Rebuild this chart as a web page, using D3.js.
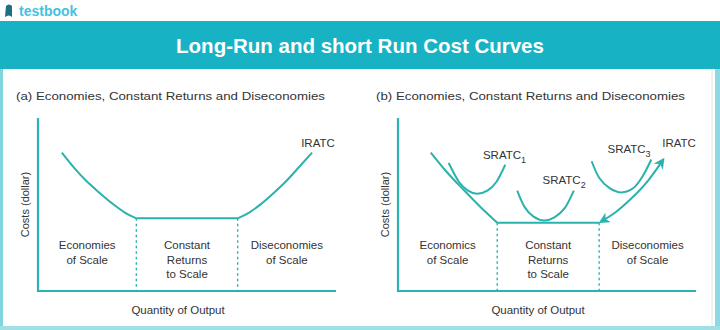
<!DOCTYPE html>
<html lang="en">
<head>
<meta charset="utf-8">
<title>Long-Run and short Run Cost Curves</title>
<script src="https://cdn.jsdelivr.net/npm/d3@7"></script>
<style>
body { margin: 0; background: #fff; }
text { font-family: "Liberation Sans", Arial, sans-serif; fill: #333; }
.curve { fill: none; stroke: #2ab2ad; stroke-width: 2; }
.axis { stroke: #2bb3b3; stroke-width: 2.2; }
.dash { stroke: #2ab2ad; stroke-width: 1.4; stroke-dasharray: 2.5 3; }
</style>
</head>
<body>
<div id="container"></div>
<script>
// chart text
var chartTitle = "Long-Run and short Run Cost Curves";
var panelTitles = ["(a) Economies, Constant Returns and Diseconomies",
                   "(b) Economies, Constant Returns and Diseconomies"];
var yLabel = "Costs (dollar)";
var xLabel = "Quantity of Output";
var regionLabelsA = [["Economies", "of Scale"], ["Constant", "Returns", "to Scale"], ["Diseconomies", "of Scale"]];
var regionLabelsB = [["Economics", "of Scale"], ["Constant", "Returns", "to Scale"], ["Diseconomies", "of Scale"]];
var srLabels = ["1", "2", "3"];

// region boundaries on quantity axis (0-100)
var boundsA = [0, 33, 67, 100];
var boundsB = [0, 33.3, 67.5, 100];

// (a) long run ATC: [quantity, cost]
var lratcA_left = [[8, 80], [12, 71.5], [16, 64], [20.5, 57], [25, 50.5], [29, 45.5], [33, 42]];
var lratcA_flat = [[33, 42], [67, 42]];
var lratcA_right = [[67, 42], [71, 45.5], [75, 50.5], [79, 56.5], [83, 63], [87, 70.5], [92, 80]];

// (b) long run ATC + short run curves
var lratcB_left = [[11, 80], [16, 69.5], [22, 58.5], [28, 48], [33.3, 39.5]];
var lratcB_flat = [[33.3, 39.5], [67.5, 39.5]];
var lratcB_right = [[68, 40], [73, 45.5], [78, 53], [84, 64], [89, 76]];
var sratc1 = [[17, 74], [20.5, 63], [23.5, 58], [26.5, 56.2], [30, 58], [33, 63], [36, 73]];
var sratc2 = [[40, 58], [42.5, 48.5], [45.5, 43], [49, 40.7], [52.5, 42.5], [56, 48], [59, 58]];
var sratc3 = [[65, 75], [67.5, 65.5], [71, 59.5], [75, 57], [79, 59.5], [82, 66], [85, 76]];

var w = 720, h = 330;
var teal = "#17b3c4";
var lineCol = "#2ab2ad";

var svg = d3.select("div#container").append("svg")
    .attr("width", w).attr("height", h)
    .attr("viewBox", "0 0 " + w + " " + h);

var defs = svg.append("defs");
defs.append("marker")
    .attr("id", "arrow")
    .attr("viewBox", "0 0 10 10")
    .attr("refX", 8).attr("refY", 5)
    .attr("markerWidth", 5.5).attr("markerHeight", 5.5)
    .attr("markerUnits", "strokeWidth")
    .attr("orient", "auto-start-reverse")
  .append("path")
    .attr("d", "M0,0 L10,5 L0,10 L3,5 Z")
    .attr("fill", lineCol);

// logo
var logo = svg.append("g").attr("transform", "translate(4,3)");
logo.append("path")
    .attr("d", "M1,14 L2,3 Q5,0 8,3 L8,14 Q5,11 1,14 Z")
    .attr("fill", "#1d6f86");
logo.append("text")
    .attr("x", 15).attr("y", 13)
    .style("font-size", "14px").style("font-weight", "bold")
    .style("fill", "#45c2df")
    .text("testbook");

// banner
svg.append("rect").attr("x", 0).attr("y", 21).attr("width", w).attr("height", 48).attr("fill", teal);
svg.append("text")
    .attr("x", 360).attr("y", 53)
    .attr("text-anchor", "middle")
    .style("font-size", "20.5px").style("font-weight", "bold")
    .style("fill", "#fff")
    .text(chartTitle);

// panel frame
svg.append("rect").attr("x", 0).attr("y", 69).attr("width", 3).attr("height", h - 69).attr("fill", "#7fd4dd");
svg.append("rect").attr("x", 715).attr("y", 69).attr("width", 5).attr("height", h - 69).attr("fill", "#8bd9e2");
svg.append("rect").attr("x", 0).attr("y", 326).attr("width", w).attr("height", 4).attr("fill", "#9fdfe6");
svg.append("line").attr("x1", 712).attr("x2", 712).attr("y1", 69).attr("y2", 326)
    .attr("stroke", "#dde6e8").attr("stroke-width", 1);

function drawPanel(ox, title, labels, bounds, curves, arrowed, lratcDx) {
    var g = svg.append("g");
    var x = d3.scaleLinear().domain([0, 100]).range([ox + 38, ox + 336]);
    var y = d3.scaleLinear().domain([0, 100]).range([291, 118]);
    var line = d3.line().x(function(d) { return x(d[0]); }).y(function(d) { return y(d[1]); });

    g.append("text").attr("x", ox + 16).attr("y", 100)
        .style("font-size", "11px")
        .attr("textLength", 309).attr("lengthAdjust", "spacingAndGlyphs")
        .text(title);

    // axes
    g.append("line").attr("class", "axis")
        .attr("x1", x(0)).attr("x2", x(0)).attr("y1", y(100)).attr("y2", y(0) + 1);
    g.append("line").attr("class", "axis")
        .attr("x1", x(0) - 1).attr("x2", x(100)).attr("y1", y(0)).attr("y2", y(0));

    g.append("text")
        .attr("transform", "translate(" + (ox + 29) + "," + y(50) + ") rotate(-90)")
        .attr("text-anchor", "middle")
        .style("font-size", "11px")
        .text(yLabel);
    g.append("text")
        .attr("x", x(47)).attr("y", 314)
        .attr("text-anchor", "middle")
        .style("font-size", "11.5px")
        .text(xLabel);

    // dashed region boundaries
    var flatLevel = curves.flat[0][1];
    [bounds[1], bounds[2]].forEach(function(b) {
        g.append("line").attr("class", "dash")
            .attr("x1", x(b)).attr("x2", x(b))
            .attr("y1", y(flatLevel)).attr("y2", y(0));
    });

    // region labels
    labels.forEach(function(lines, i) {
        var cx = x((bounds[i] + bounds[i + 1]) / 2);
        var t = g.append("text").attr("text-anchor", "middle").style("font-size", "11.5px");
        lines.forEach(function(s, j) {
            t.append("tspan").attr("x", cx).attr("y", 249 + j * 14.5).text(s);
        });
    });

    // curves
    g.append("path").attr("class", "curve").attr("d", line.curve(d3.curveMonotoneX)(curves.left));
    g.append("path").attr("class", "curve").attr("d", line.curve(d3.curveLinear)(curves.flat));
    var rp = g.append("path").attr("class", "curve").attr("d", line.curve(d3.curveMonotoneX)(curves.right));
    if (arrowed) {
        rp.attr("marker-start", "url(#arrow)").attr("marker-end", "url(#arrow)");
    }
    (curves.sr || []).forEach(function(c) {
        g.append("path").attr("class", "curve").attr("d", line.curve(d3.curveCardinal)(c));
    });

    var last = curves.right[curves.right.length - 1];
    g.append("text").attr("x", x(last[0]) + lratcDx).attr("y", 147)
        .style("font-size", "11.5px").text("IRATC");
    return { x: x, y: y, g: g };
}

drawPanel(0, panelTitles[0], regionLabelsA, boundsA,
    { left: lratcA_left, flat: lratcA_flat, right: lratcA_right }, false, -11);

var pb = drawPanel(360, panelTitles[1], regionLabelsB, boundsB,
    { left: lratcB_left, flat: lratcB_flat, right: lratcB_right, sr: [sratc1, sratc2, sratc3] }, true, -1);

// SRATC labels with subscripts (label anchor in data units)
var srAnchor = [[28.5, 76.5], [48.5, 62], [70.3, 80]];
srLabels.forEach(function(sub, i) {
    var t = pb.g.append("text")
        .attr("x", pb.x(srAnchor[i][0]))
        .attr("y", pb.y(srAnchor[i][1]))
        .style("font-size", "11.5px");
    t.append("tspan").text("SRATC");
    t.append("tspan").attr("dy", 4).style("font-size", "9px").text(sub);
});
</script>
</body>
</html>
